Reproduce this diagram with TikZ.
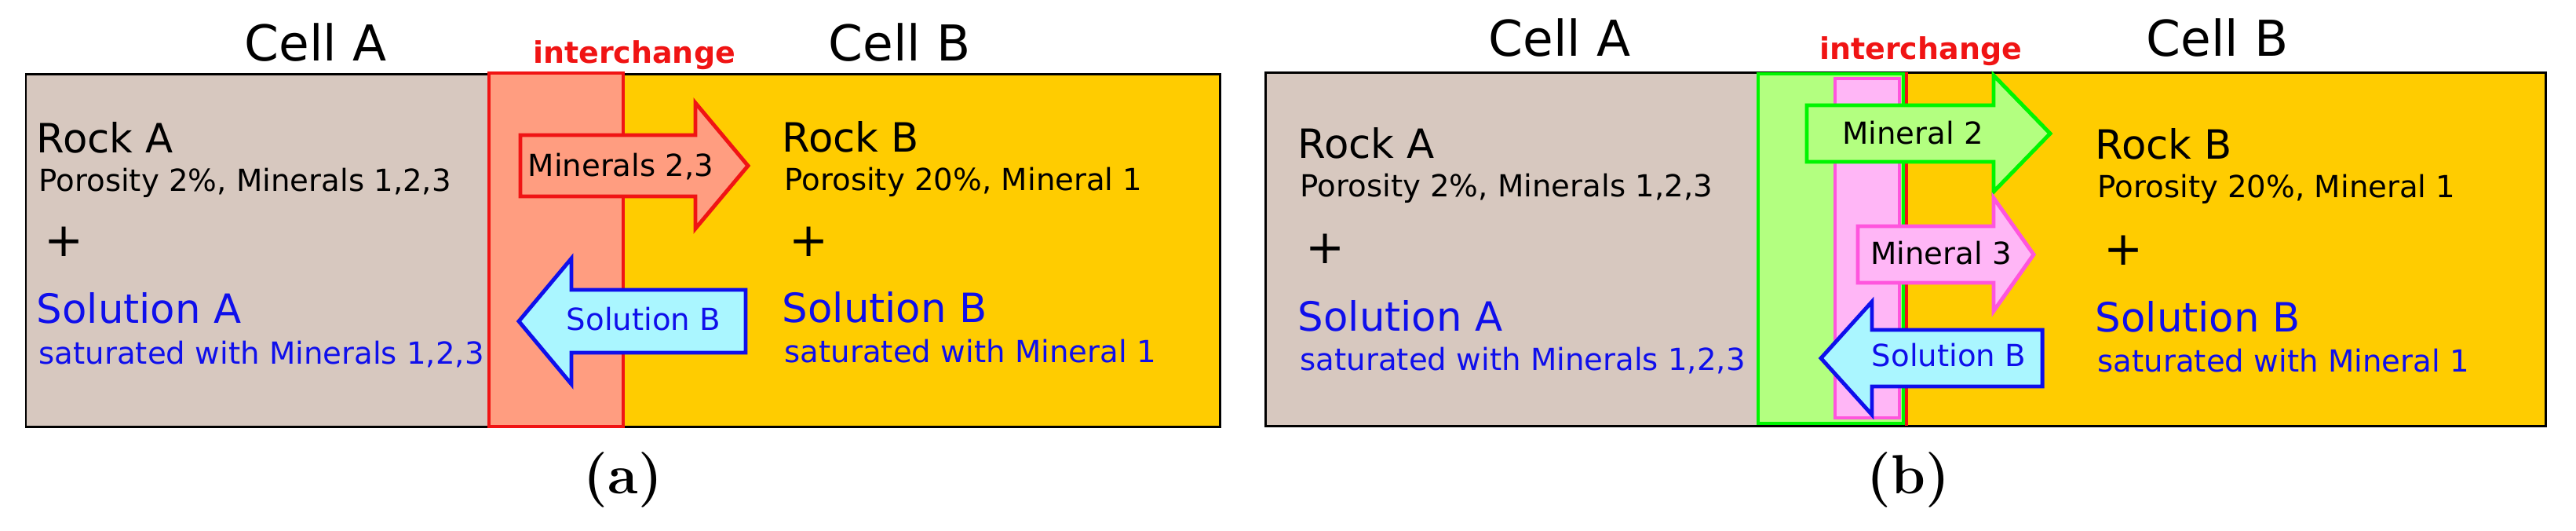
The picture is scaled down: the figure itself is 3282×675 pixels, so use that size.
\documentclass[tikz,border=0pt]{standalone}
\usepackage{fontspec}
\setsansfont{DejaVu Sans}
\usepackage{xcolor}
\usepackage{tikz}
\usetikzlibrary{positioning}

\definecolor{rockA}{RGB}{215,200,191}
\definecolor{rockB}{RGB}{255,204,0}
\definecolor{xchg}{RGB}{255,157,128}
\definecolor{xred}{RGB}{240,20,20}
\definecolor{solfill}{RGB}{170,246,255}
\definecolor{solblue}{RGB}{15,15,235}
\definecolor{mtwofill}{RGB}{179,255,128}
\definecolor{mtwoline}{RGB}{0,245,0}
\definecolor{mthreefill}{RGB}{255,182,246}
\definecolor{mthreeline}{RGB}{255,85,221}

\begin{document}
\begin{tikzpicture}[x=0.01cm,y=-0.01cm,
    every node/.style={inner sep=0pt},
    cell/.style={font=\sffamily\fontsize{17.9}{21}\selectfont,anchor=base},
    xlabel/.style={font=\sffamily\bfseries\fontsize{10.8}{13}\selectfont,text=xred,anchor=base},
    rock/.style={font=\sffamily\fontsize{14.6}{17}\selectfont,anchor=base west},
    info/.style={font=\sffamily\fontsize{11}{13}\selectfont,anchor=base west},
    plus/.style={font=\sffamily\fontsize{17}{20}\selectfont},
    flux/.style={font=\sffamily\fontsize{11}{13}\selectfont,anchor=base},
    sub/.style={font=\bfseries\fontsize{20}{24}\selectfont},
    cellbox/.style={draw=black,line width=0.85pt},
    band/.style={line width=1.4pt},
    blockarrow/.style={line width=1.4pt,line join=miter}]
  \useasboundingbox (0,0) rectangle (3282,675);

  % (a)
  \fill[rockA] (33,94) rectangle (708,543);
  \fill[rockB] (708,94) rectangle (1554,543);
  \draw[cellbox] (33,94) rectangle (1554,543);
  \draw[band,draw=xred,fill=xchg] (623,93) rectangle (794,543);
  \draw[blockarrow,draw=xred,fill=xchg] (663,172) -- (886,172) -- (886,131) -- (953,211)
    -- (886,291) -- (886,250) -- (663,250) -- cycle;
  \draw[blockarrow,draw=solblue,fill=solfill] (950,369) -- (728,369) -- (728,329) -- (661,409)
    -- (728,489) -- (728,449) -- (950,449) -- cycle;

  \node[cell] (cellA1) at (402,77) {Cell A};
  \node[cell] (cellB1) at (1146,77) {Cell B};
  \node[xlabel] (xch1) at (808,80) {interchange};
  \node[rock] (rockA1) at (46,194) {Rock A};
  \node[info] (porA1) at (49,243) {Porosity 2\%, Minerals 1,2,3};
  \node[plus] (plusA1) at (82,308) {+};
  \node[rock,text=solblue] (solA1) at (46,411) {Solution A};
  \node[info,text=solblue] (satA1) at (49,463) {saturated with Minerals 1,2,3};
  \node[rock] (rockB1) at (996,193) {Rock B};
  \node[info] (porB1) at (999,242) {Porosity 20\%, Mineral 1};
  \node[plus] (plusB1) at (1031,308) {+};
  \node[rock,text=solblue] (solB1) at (996,410) {Solution B};
  \node[info,text=solblue] (satB1) at (999,461) {saturated with Mineral 1};
  \node[flux] (flowm23) at (791,224) {Minerals 2,3};
  \node[flux,text=solblue] (flowsolB1) at (820,420) {Solution B};
  \node[sub] (lbla) at (794,611) {(a)};

  % (b)
  \fill[rockA] (1612,92) rectangle (2429,542);
  \fill[rockB] (2429,92) rectangle (3243,542);
  \draw[cellbox] (1612,92) rectangle (3243,542);
  \draw[band,draw=mtwoline,fill=mtwofill] (2240,94) rectangle (2425,539);
  \draw[band,draw=mthreeline,fill=mthreefill] (2338,100) rectangle (2420,532);
  \draw[band,draw=xred] (2429,92) -- (2429,542);
  \draw[blockarrow,draw=mtwoline,fill=mtwofill] (2302,134) -- (2540,134) -- (2540,96) -- (2612,170)
    -- (2540,244) -- (2540,206) -- (2302,206) -- cycle;
  \draw[blockarrow,draw=mthreeline,fill=mthreefill] (2367,288) -- (2540,288) -- (2540,252) -- (2591,324)
    -- (2540,396) -- (2540,360) -- (2367,360) -- cycle;
  \draw[blockarrow,draw=solblue,fill=solfill] (2602,420) -- (2385,420) -- (2385,384) -- (2320,456)
    -- (2385,528) -- (2385,492) -- (2602,492) -- cycle;

  \node[cell] (cellA2) at (1987,71) {Cell A};
  \node[cell] (cellB2) at (2825,71) {Cell B};
  \node[xlabel] (xch2) at (2447,75) {interchange};
  \node[rock] (rockA2) at (1653,201) {Rock A};
  \node[info] (porA2) at (1656,250) {Porosity 2\%, Minerals 1,2,3};
  \node[plus] (plusA2) at (1689,317) {+};
  \node[rock,text=solblue] (solA2) at (1653,421) {Solution A};
  \node[info,text=solblue] (satA2) at (1656,471) {saturated with Minerals 1,2,3};
  \node[rock] (rockB2) at (2669,202) {Rock B};
  \node[info] (porB2) at (2672,251) {Porosity 20\%, Mineral 1};
  \node[plus] (plusB2) at (2706,319) {+};
  \node[rock,text=solblue] (solB2) at (2669,422) {Solution B};
  \node[info,text=solblue] (satB2) at (2672,473) {saturated with Mineral 1};
  \node[flux] (flowm2) at (2437,183) {Mineral 2};
  \node[flux] (flowm3) at (2473,336) {Mineral 3};
  \node[flux,text=solblue] (flowsolB2) at (2483,466) {Solution B};
  \node[sub] (lblb) at (2431,611) {(b)};
\end{tikzpicture}
\end{document}
